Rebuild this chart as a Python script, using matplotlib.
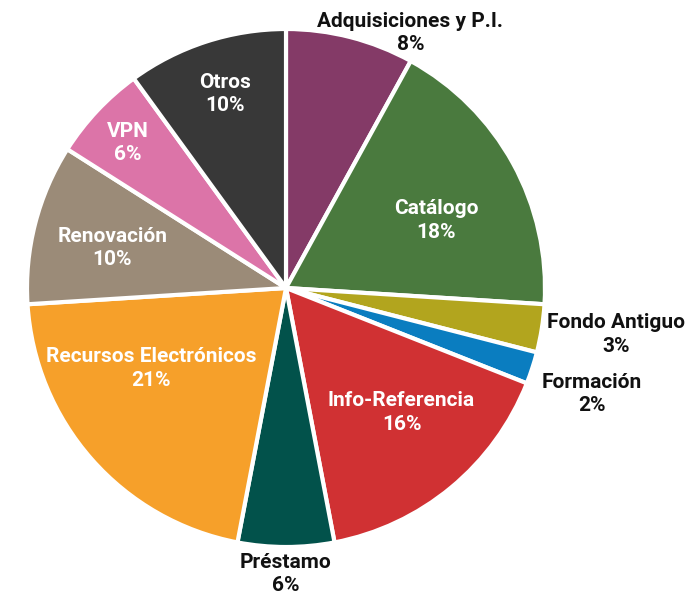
import matplotlib
matplotlib.use("Agg")
import matplotlib.pyplot as plt
import numpy as np

categories = ["Adquisiciones y P.I.", "Catálogo", "Fondo Antiguo", "Formación",
              "Info-Referencia", "Préstamo", "Recursos Electrónicos", "Renovación",
              "VPN", "Otros"]
values = [8, 18, 3, 2, 16, 6, 21, 10, 6, 10]
colors = ["#843A67", "#4A7A3E", "#B2A51E", "#0A7DC0", "#D03133",
          "#02524B", "#F6A02A", "#9B8B78", "#DC74A8", "#383838"]
label_colors = ["#111111", "white", "#111111", "#111111", "white",
                "#111111", "white", "white", "white", "white"]
# label anchor positions (in units of pie radius)
label_pos = [(0.48, 0.985), (0.58, 0.26), (1.275, -0.18), (1.18, -0.41),
             (0.446, -0.48), (0.0, -1.105), (-0.52, -0.31), (-0.67, 0.155),
             (-0.61, 0.56), (-0.236, 0.75)]

plt.rcParams['font.family'] = ['Roboto', 'DejaVu Sans']

W, H = 692, 598
fig = plt.figure(figsize=(W / 100, H / 100), dpi=100)
cx, cy, R = 286, 288, 259
ax = fig.add_axes([(cx - R) / W, (H - cy - R) / H, 2 * R / W, 2 * R / H])
ax.pie(values, colors=colors, startangle=90, counterclock=False, radius=1,
       wedgeprops=dict(edgecolor="white", linewidth=3))
ax.set_xlim(-1, 1)
ax.set_ylim(-1, 1)
ax.set_aspect("equal")
ax.axis("off")

for cat, v, (lx, ly), c in zip(categories, values, label_pos, label_colors):
    ax.text(lx, ly, f"{cat}\n{v}%", ha="center", va="center", fontsize=15,
            fontweight="bold", color=c, linespacing=1.3, clip_on=False)

fig.savefig("out.png", dpi=100)
